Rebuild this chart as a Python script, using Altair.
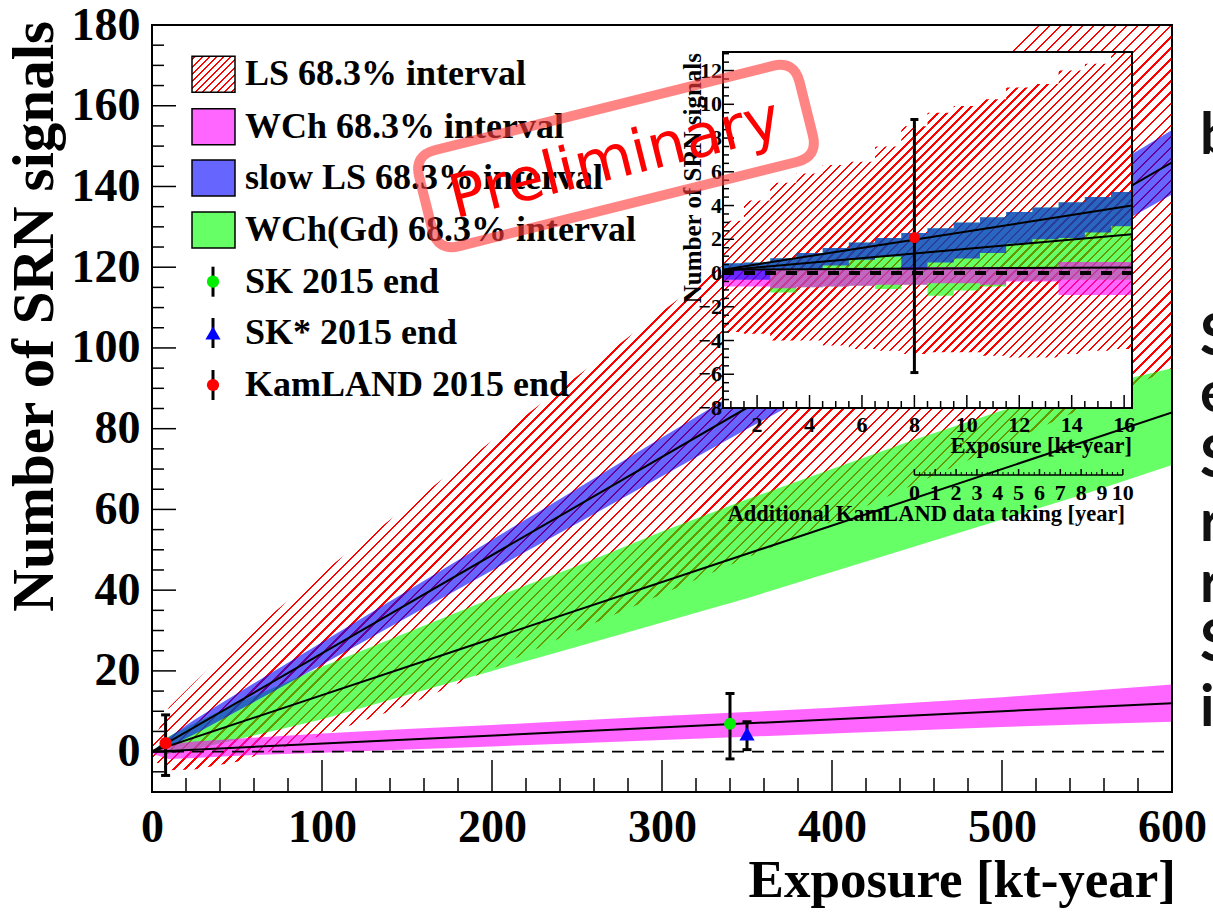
import math
import altair as alt
import pandas as pd

# ---------------- main panel data ----------------
exposure = [0, 10, 25, 50, 100, 150, 200, 250, 300, 350, 400, 450, 500, 550, 600]
ls_hi = [2, 11, 17.2, 27, 44.3, 60.7, 77, 93, 109, 125, 141, 157, 173, 189, 205]
ls_lo = [-2, -4.6, -4.4, -2.5, 4, 11.5, 20.5, 30, 39, 48, 57, 66.5, 76, 85.5, 95]
wch_hi = [0.5, 1.8, 2.5, 3.2, 4.5, 5.6, 6.6, 7.7, 8.8, 9.8, 10.9, 12.2, 13.5, 15.0, 16.6]
wch_lo = [-0.5, -1.8, -1.6, -1.0, -0.3, 0.5, 1.3, 2.1, 2.9, 3.7, 4.5, 5.3, 6.1, 6.8, 7.4]
sls_hi = [0, 3.6, 7.9, 14.4, 27.1, 39.8, 52.5, 65.1, 77.8, 90.5, 103.2, 115.9, 128.7, 141.3, 154]
sls_lo = [0, 1.2, 4.3, 10.0, 21.5, 33.2, 44.9, 56.5, 68.2, 79.9, 91.4, 103.1, 114.7, 126.3, 138]
gd_hi = [0, 3.8, 7.0, 12, 21, 29.5, 38, 46, 54.5, 62.5, 70, 77.5, 84.5, 90, 95]
gd_lo = [0, -0.5, 0.6, 3.0, 8.0, 14.0, 20.0, 26.0, 32.0, 38.0, 44.5, 51, 57.5, 64, 71]

line_x = [0, 600]
sls_line = [0, 146]
gd_line = [0, 84]
wch_line = [0, 12]

# measured points: exposure, value, error low, error high
sk_pt = [340, 6.9, -1.8, 14.4]
skstar_pt = [350, 4.4, 0.5, 7.4]
kl_pt = [8, 2.1, -5.9, 9.1]

x_major = [0, 100, 200, 300, 400, 500, 600]
x_minor = [v for v in range(0, 601, 20) if v % 100 != 0]
y_major = [0, 20, 40, 60, 80, 100, 120, 140, 160, 180]
y_minor = [v for v in range(-5, 180, 5) if v % 20 != 0]

# ---------------- inset data (1 kt-year bins) ----------------
ins_edges = [0.7, 1.5, 2.5, 3.5, 4.5, 5.5, 6.5, 7.5, 8.5, 9.5, 10.5, 11.5, 12.5, 13.5, 14.5, 15.5, 16.3]
ins_ls_hi = [3.1, 4.3, 5.35, 5.9, 6.4, 6.6, 7.5, 8.7, 9.5, 9.9, 10.3, 11.0, 11.2, 12.0, 12.4, 13.1]
ins_ls_lo = [-3.5, -3.6, -4.0, -4.0, -4.3, -4.5, -4.6, -4.8, -4.7, -4.7, -4.9, -5.0, -5.0, -4.8, -4.6, -4.5]
ins_sls_hi = [0.58, 0.62, 0.88, 1.18, 1.48, 1.81, 2.07, 2.37, 2.66, 3.0, 3.3, 3.61, 3.89, 4.19, 4.5, 4.8]
ins_sls_lo = [-0.4, -0.4, 0.19, 0.19, 0.44, 0.79, 0.98, 0.19, 0.62, 0.86, 1.18, 1.74, 2.0, 2.07, 2.4, 2.77]
ins_gd_hi = [0.58, 0.62, 0.88, 1.18, 1.48, 1.81, 2.07, 2.37, 2.66, 3.0, 3.3, 3.61, 3.89, 4.19, 4.5, 4.8]
ins_gd_lo = [0.19, 0.19, -1.16, -0.85, -0.8, -0.75, -0.95, -0.7, -1.35, -1.04, -0.8, -0.45, -0.45, -0.4, -0.4, -0.4]
ins_wch_hi = [0.2, 0.2, 0.2, 0.2, 0.2, 0.2, 0.2, 0.35, 0.35, 0.35, 0.35, 0.35, 0.35, 0.65, 0.65, 0.65]
ins_wch_lo = [-0.8, -0.8, -0.9, -0.85, -0.8, -0.75, -0.7, -0.7, -0.6, -0.6, -0.7, -0.5, -0.5, -1.3, -1.3, -1.3]
ins_line_x = [0.7, 16.3]
ins_sls_line = [0.2, 4.0]
ins_gd_line = [0.15, 2.3]
ins_wch_line = [0.2, 0.33]

ins_x_labels = [2, 4, 6, 8, 10, 12, 14, 16]
ins_x_minor = [1.0, 1.5, 2.5, 3.0, 3.5, 4.5, 5.0, 5.5, 6.5, 7.0, 7.5, 8.5, 9.0, 9.5, 10.5, 11.0,
               11.5, 12.5, 13.0, 13.5, 14.5, 15.0, 15.5]
ins_y_labels = [-8, -6, -4, -2, 0, 2, 4, 6, 8, 10, 12]
ins_y_minor = [v / 2 for v in range(-15, 27) if v % 4 != 0]

kl_start = 8.0      # kt-year at the end of 2015
kl_rate = 0.795     # kt-year per additional year of KamLAND
kl_years = [0, 1, 2, 3, 4, 5, 6, 7, 8, 9, 10]
kl_year_minor = [q / 4 for q in range(0, 41) if q % 4 != 0]

legend_labels = ["LS 68.3% interval", "WCh 68.3% interval", "slow LS 68.3% interval",
                 "WCh(Gd) 68.3% interval", "SK 2015 end", "SK* 2015 end", "KamLAND 2015 end"]
side_letters = ["b", "S", "e", "S", "r", "r", "S", "i"]

# ---------------- layout ----------------
W, H = 1020, 767
X_DOM, Y_DOM = [0, 600], [-10, 180]
IX_DOM, IY_DOM = [0.7, 16.3], [-8, 13.1]
IX_RANGE, IY_RANGE = [571, 980], [383, 27]
SERIF = "Liberation Serif"
RED, GREEN, BLUE, MAGENTA = "#ff0000", "#00ff00", "#0000ff", "#ff00ff"
BAND_OP = 0.6
AXIS_FS = 46


def mx(f):
    return alt.X(f"{f}:Q", scale=alt.Scale(domain=X_DOM, nice=False, zero=False), axis=None)


def my(f):
    return alt.Y(f"{f}:Q", scale=alt.Scale(domain=Y_DOM, nice=False, zero=False), axis=None)


def ix(f):
    return alt.X(f"{f}:Q", scale=alt.Scale(domain=IX_DOM, range=IX_RANGE, nice=False, zero=False), axis=None)


def iy(f):
    return alt.Y(f"{f}:Q", scale=alt.Scale(domain=IY_DOM, range=IY_RANGE, nice=False, zero=False), axis=None)


def hatch(w, h, spacing, lw):
    k = (w + h) / (w * w + h * h)
    length = (w + h) / math.sqrt(2)
    n = max(1, int(round(length / spacing)))
    step = 1.0 / n
    f = min(lw / length, step * 0.5)
    clear = "rgba(255,0,0,0)"
    stops = []
    for i in range(n):
        a = round(i * step + (step - f) / 2, 6)
        b = round(i * step + (step + f) / 2, 6)
        stops += [alt.GradientStop(color=clear, offset=a), alt.GradientStop(color=RED, offset=a),
                  alt.GradientStop(color=RED, offset=b), alt.GradientStop(color=clear, offset=b)]
    return alt.LinearGradient(gradient="linear", stops=stops, x1=0, y1=0,
                              x2=round(w * k, 5), y2=round(h * k, 5))


def text(txt, x, y, size, align="left", baseline="middle", angle=None, weight="bold",
         font=SERIF, color="black"):
    kw = dict(align=align, baseline=baseline, fontSize=size, fontWeight=weight, font=font, color=color)
    if angle:
        kw["angle"] = angle
    return alt.Chart(pd.DataFrame({"t": [txt]})).mark_text(**kw).encode(
        x=alt.value(x), y=alt.value(y), text="t:N")


layers = []

# ---- main bands ----
main_df = pd.DataFrame({"x": exposure, "ls_lo": ls_lo, "ls_hi": ls_hi, "wch_lo": wch_lo, "wch_hi": wch_hi,
                        "sls_lo": sls_lo, "sls_hi": sls_hi, "gd_lo": gd_lo, "gd_hi": gd_hi})
ls_w = (max(exposure) - min(exposure)) * W / (X_DOM[1] - X_DOM[0])
ls_h = (max(ls_hi) - min(ls_lo)) * H / (Y_DOM[1] - Y_DOM[0])
x_axis = alt.Axis(values=x_major, format="d", labelFont=SERIF, labelFontWeight="bold", labelFontSize=AXIS_FS,
                  labelColor="black", labelPadding=13, labelFlush=False, labelOverlap=False,
                  ticks=False, domain=False, grid=False, title=None)
y_axis = alt.Axis(values=y_major, format="d", labelFont=SERIF, labelFontWeight="bold", labelFontSize=AXIS_FS,
                  labelColor="black", labelPadding=12, labelFlush=False, labelOverlap=False,
                  ticks=False, domain=False, grid=False, title=None)
layers.append(alt.Chart(main_df).mark_area(fill=hatch(ls_w, ls_h, 7.8, 1.6), clip=True).encode(
    x=alt.X("x:Q", scale=alt.Scale(domain=X_DOM, nice=False, zero=False), axis=x_axis),
    y=alt.Y("ls_lo:Q", scale=alt.Scale(domain=Y_DOM, nice=False, zero=False), axis=y_axis),
    y2=alt.Y2("ls_hi:Q")))
for lo, hi, col in [("gd_lo", "gd_hi", GREEN), ("wch_lo", "wch_hi", MAGENTA), ("sls_lo", "sls_hi", BLUE)]:
    layers.append(alt.Chart(main_df).mark_area(color=col, opacity=BAND_OP, clip=True).encode(
        x=mx("x"), y=my(lo), y2=alt.Y2(f"{hi}:Q")))

lines_df = pd.DataFrame({"x": line_x, "sls": sls_line, "gd": gd_line, "wch": wch_line})
for f in ["sls", "gd", "wch"]:
    layers.append(alt.Chart(lines_df).mark_line(color="black", strokeWidth=2, clip=True).encode(
        x=mx("x"), y=my(f)))
layers.append(alt.Chart(pd.DataFrame({"x": [X_DOM[0]], "x2": [X_DOM[1]], "y": [0]})).mark_rule(
    color="black", strokeWidth=1.6, strokeDash=[12, 8]).encode(x=mx("x"), x2=alt.X2("x2:Q"), y=my("y")))


def point_with_err(pt, xe, ye, shape, col, size, lw=3, cap=9):
    d = pd.DataFrame({"x": [pt[0]], "y": [pt[1]], "lo": [pt[2]], "hi": [pt[3]]})
    out = [alt.Chart(d).mark_rule(color="black", strokeWidth=lw).encode(x=xe("x"), y=ye("lo"), y2=alt.Y2("hi:Q"))]
    for f in ["lo", "hi"]:
        out.append(alt.Chart(d).mark_tick(color="black", thickness=lw, size=cap, orient="horizontal",
                                          opacity=1).encode(x=xe("x"), y=ye(f)))
    out.append(alt.Chart(d).mark_point(shape=shape, filled=True, color=col, size=size, opacity=1).encode(
        x=xe("x"), y=ye("y")))
    return out


layers += point_with_err(sk_pt, mx, my, "circle", "#00ee00", 140)
layers += point_with_err(skstar_pt, mx, my, "triangle-up", BLUE, 230)
layers += point_with_err(kl_pt, mx, my, "circle", RED, 150)

# ---- main ticks (inside) and frame ----
for vals, ln in [(x_major, 32), (x_minor, 14)]:
    layers.append(alt.Chart(pd.DataFrame({"t": vals})).mark_rule(color="black", strokeWidth=1.5).encode(
        x=mx("t"), y=alt.value(H), y2=alt.value(H - ln)))
for vals, ln in [(y_major, 24), (y_minor, 12)]:
    layers.append(alt.Chart(pd.DataFrame({"t": vals})).mark_rule(color="black", strokeWidth=1.5).encode(
        y=my("t"), x=alt.value(0), x2=alt.value(ln)))
layers.append(alt.Chart(pd.DataFrame({"a": [0]})).mark_rect(filled=False, stroke="black", strokeWidth=2).encode(
    x=alt.value(0), x2=alt.value(W), y=alt.value(0), y2=alt.value(H)))

# ---- inset ----
box = pd.DataFrame({"x": [IX_DOM[0]], "x2": [IX_DOM[1]], "y": [IY_DOM[0]], "y2": [IY_DOM[1]]})
layers.append(alt.Chart(box).mark_rect(color="white", opacity=1).encode(
    x=ix("x"), x2=alt.X2("x2:Q"), y=iy("y"), y2=alt.Y2("y2:Q")))


def stepcol(v):
    return v + [v[-1]]


ins_df = pd.DataFrame({"x": ins_edges, "ls_lo": stepcol(ins_ls_lo), "ls_hi": stepcol(ins_ls_hi),
                       "gd_lo": stepcol(ins_gd_lo), "gd_hi": stepcol(ins_gd_hi),
                       "wch_lo": stepcol(ins_wch_lo), "wch_hi": stepcol(ins_wch_hi),
                       "sls_lo": stepcol(ins_sls_lo), "sls_hi": stepcol(ins_sls_hi)})
ins_w = IX_RANGE[1] - IX_RANGE[0]
ins_h = (max(ins_ls_hi) - min(ins_ls_lo)) * (IY_RANGE[0] - IY_RANGE[1]) / (IY_DOM[1] - IY_DOM[0])
layers.append(alt.Chart(ins_df).mark_area(fill=hatch(ins_w, ins_h, 6.4, 1.7), interpolate="step-after").encode(
    x=ix("x"), y=iy("ls_lo"), y2=alt.Y2("ls_hi:Q")))
for lo, hi, col in [("gd_lo", "gd_hi", GREEN), ("wch_lo", "wch_hi", MAGENTA), ("sls_lo", "sls_hi", BLUE)]:
    layers.append(alt.Chart(ins_df).mark_area(color=col, opacity=BAND_OP, interpolate="step-after").encode(
        x=ix("x"), y=iy(lo), y2=alt.Y2(f"{hi}:Q")))
ins_lines = pd.DataFrame({"x": ins_line_x, "sls": ins_sls_line, "gd": ins_gd_line, "wch": ins_wch_line})
for f in ["sls", "gd", "wch"]:
    layers.append(alt.Chart(ins_lines).mark_line(color="black", strokeWidth=2).encode(x=ix("x"), y=iy(f)))
layers.append(alt.Chart(pd.DataFrame({"x": [IX_DOM[0]], "x2": [IX_DOM[1]], "y": [0]})).mark_rule(
    color="black", strokeWidth=4, strokeDash=[11, 10]).encode(x=ix("x"), x2=alt.X2("x2:Q"), y=iy("y")))
layers += point_with_err(kl_pt, ix, iy, "circle", RED, 120, lw=3, cap=8)
layers.append(alt.Chart(box).mark_rect(filled=False, stroke="black", strokeWidth=2).encode(
    x=ix("x"), x2=alt.X2("x2:Q"), y=iy("y"), y2=alt.Y2("y2:Q")))

ib, il = IY_RANGE[0], IX_RANGE[0]
for vals, ln in [(ins_x_labels, 13), (ins_x_minor, 7)]:
    layers.append(alt.Chart(pd.DataFrame({"t": vals})).mark_rule(color="black", strokeWidth=1.5).encode(
        x=ix("t"), y=alt.value(ib), y2=alt.value(ib - ln)))
for vals, ln in [(ins_y_labels, 11), (ins_y_minor, 6)]:
    layers.append(alt.Chart(pd.DataFrame({"t": vals})).mark_rule(color="black", strokeWidth=1.5).encode(
        y=iy("t"), x=alt.value(il), x2=alt.value(il + ln)))
layers.append(alt.Chart(pd.DataFrame({"t": ins_x_labels, "s": [str(v) for v in ins_x_labels]})).mark_text(
    font=SERIF, fontWeight="bold", fontSize=22, baseline="middle", align="center", color="black").encode(
    x=ix("t"), y=alt.value(ib + 17), text="s:N"))
layers.append(alt.Chart(pd.DataFrame({"t": ins_y_labels,
                                      "s": [str(v).replace("-", "\u2212") for v in ins_y_labels]})).mark_text(
    font=SERIF, fontWeight="bold", fontSize=22, baseline="middle", align="right", color="black").encode(
    x=alt.value(il - 1), y=iy("t"), text="s:N"))
layers.append(text("Exposure [kt-year]", IX_RANGE[1], ib + 45, 22.5, align="right", baseline="alphabetic"))
layers.append(text("Number of SRN signals", il - 22, 28, 25, align="right", baseline="alphabetic", angle=270))

# KamLAND additional-years axis
kl_df = pd.DataFrame({"x": [kl_start], "x2": [kl_start + kl_rate * kl_years[-1]]})
ky = 450
layers.append(alt.Chart(kl_df).mark_rule(color="black", strokeWidth=1.5).encode(
    x=ix("x"), x2=alt.X2("x2:Q"), y=alt.value(ky)))
layers.append(alt.Chart(pd.DataFrame({"t": [kl_start + kl_rate * y for y in kl_years]})).mark_rule(
    color="black", strokeWidth=1.5).encode(x=ix("t"), y=alt.value(ky), y2=alt.value(ky - 6)))
layers.append(alt.Chart(pd.DataFrame({"t": [kl_start + kl_rate * y for y in kl_year_minor]})).mark_rule(
    color="black", strokeWidth=1).encode(x=ix("t"), y=alt.value(ky), y2=alt.value(ky - 3)))
layers.append(alt.Chart(pd.DataFrame({"t": [kl_start + kl_rate * y for y in kl_years],
                                      "s": [str(y) for y in kl_years]})).mark_text(
    font=SERIF, fontWeight="bold", fontSize=22, baseline="middle", align="center", color="black").encode(
    x=ix("t"), y=alt.value(ky + 18), text="s:N"))
layers.append(text("Additional KamLAND data taking [year]", 973, ky + 46, 22.5, align="right",
                   baseline="alphabetic"))

# ---- axis titles ----
layers.append(text("Exposure [kt-year]", 1024, 872, 53, align="right", baseline="alphabetic"))
layers.append(text("Number of SRN signals", -99, -4, 59, align="right", baseline="alphabetic", angle=270))

# ---- legend ----
rows = [49.3, 101.7, 153, 205, 256.7, 308, 360]
sx0, sx1, mxp = 40, 83, 61
layers.append(alt.Chart(pd.DataFrame({"a": [0]})).mark_rect(fill=hatch(sx1 - sx0, 36, 5.2, 1.4)).encode(
    x=alt.value(sx0), x2=alt.value(sx1), y=alt.value(rows[0] - 18), y2=alt.value(rows[0] + 18)))
for r, col in zip(rows[1:4], [MAGENTA, BLUE, GREEN]):
    layers.append(alt.Chart(pd.DataFrame({"a": [0]})).mark_rect(color=col, opacity=BAND_OP).encode(
        x=alt.value(sx0), x2=alt.value(sx1), y=alt.value(r - 18), y2=alt.value(r + 18)))
for r in rows[:4]:
    layers.append(alt.Chart(pd.DataFrame({"a": [0]})).mark_rect(filled=False, stroke="black", strokeWidth=1.5).encode(
        x=alt.value(sx0), x2=alt.value(sx1), y=alt.value(r - 18), y2=alt.value(r + 18)))
for r, (shape, col, sz) in zip(rows[4:], [("circle", "#00ee00", 150), ("triangle-up", BLUE, 230),
                                         ("circle", RED, 150)]):
    layers.append(alt.Chart(pd.DataFrame({"a": [0]})).mark_rule(color="black", strokeWidth=3).encode(
        x=alt.value(mxp), y=alt.value(r - 15), y2=alt.value(r + 15)))
    layers.append(alt.Chart(pd.DataFrame({"a": [0]})).mark_point(shape=shape, filled=True, color=col,
                                                                  size=sz, opacity=1).encode(
        x=alt.value(mxp), y=alt.value(r)))
for r, lab in zip(rows, legend_labels):
    layers.append(text(lab, 93, r, 36))

# ---- "Preliminary" stamp ----
stamp_path = ("M -0.887,-0.2526 L 0.887,-0.2526 Q 1,-0.2526 1,-0.1396 L 1,0.1396 Q 1,0.2526 0.887,0.2526 "
              "L -0.887,0.2526 Q -1,0.2526 -1,0.1396 L -1,-0.1396 Q -1,-0.2526 -0.887,-0.2526 Z")
layers.append(alt.Chart(pd.DataFrame({"a": [0]})).mark_point(
    shape=stamp_path, size=392 * 392, filled=False, color="#ff3c3c", strokeWidth=10, opacity=0.62,
    angle=346).encode(x=alt.value(464), y=alt.value(131)))
layers.append(text("Preliminary", 463, 135, 60, align="center", baseline="middle", angle=346,
                   weight="normal", font="DejaVu Sans", color=RED))

# ---- cut-off slide text at the right edge ----
for lt, yy in zip(side_letters, [112, 313, 370, 435, 499, 560, 619, 684]):
    layers.append(text(lt, 1048, yy, 57, weight="bold", font="Lato", color="#111111"))

chart = alt.layer(*layers).resolve_scale(x="independent", y="independent").properties(
    width=W, height=H,
    padding={"left": 152, "top": 25, "right": 41, "bottom": 120},
    autosize=alt.AutoSizeParams(type="none"),
    background="white",
).configure_view(stroke=None)

chart.save("out.html", embed_options={"renderer": "svg", "actions": False})
